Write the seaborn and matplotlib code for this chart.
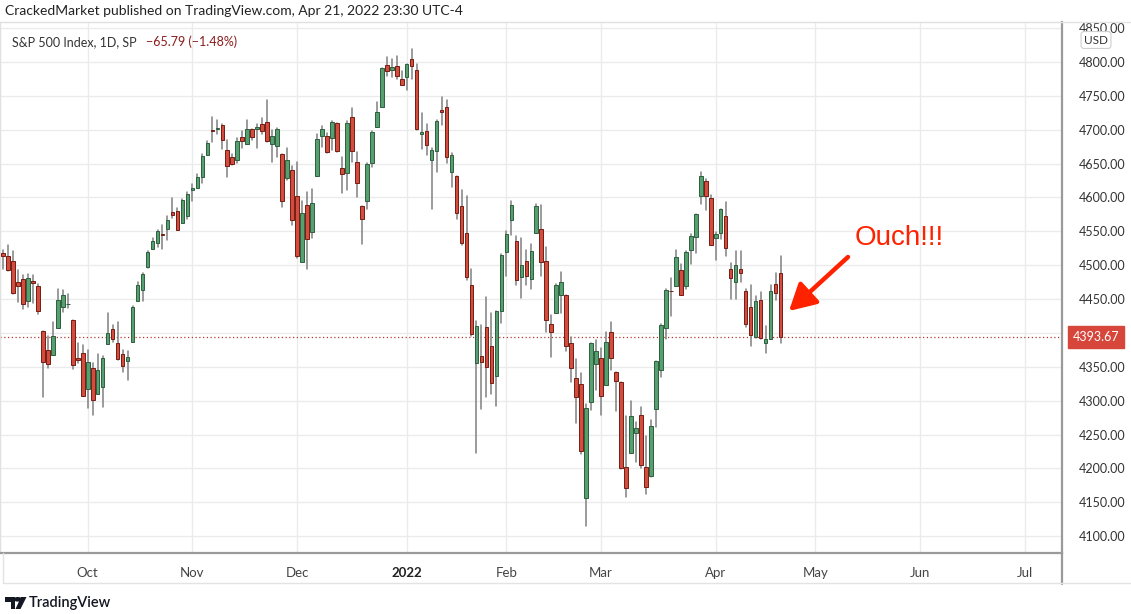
import numpy as np
import pandas as pd
import matplotlib
matplotlib.use("Agg")
import matplotlib.pyplot as plt
import seaborn as sns
from matplotlib.lines import Line2D
from matplotlib.patches import Polygon, Circle

# ---------------- data ----------------
holidays = ["2021-11-25", "2021-12-24", "2022-01-17", "2022-02-21", "2022-04-15",
            "2022-05-30", "2022-06-20", "2022-07-04"]
calendar = [d for d in pd.bdate_range("2021-09-08", "2022-07-29") if d.strftime("%Y-%m-%d") not in holidays]

opens = [4518.09, 4513.02, 4506.92, 4474.81, 4479.33, 4447.49, 4477.09, 4469.74, 4402.95, 4374.45, 4367.43, 4406.75, 4438.04, 4442.12, 4419.54, 4362.41, 4370.67,
         4317.16, 4348.84, 4309.87, 4319.57, 4383.73, 4406.51, 4385.44, 4368.31, 4358.01, 4386.75, 4447.69, 4463.72, 4497.34, 4524.42, 4532.24, 4546.12, 4553.69, 4578.69, 4580.22, 4562.84, 4572.87,
         4610.62, 4613.34, 4630.65, 4662.93, 4699.26, 4701.48, 4707.25, 4670.26, 4659.39, 4655.24, 4689.30, 4679.42, 4701.50, 4700.72, 4708.44, 4712.00, 4678.48, 4675.78, 4664.63, 4628.75, 4640.25,
         4602.82, 4504.73, 4589.49, 4548.37, 4631.97, 4690.86, 4691.00, 4687.64, 4710.30, 4642.99, 4636.46, 4719.13, 4652.50, 4587.90, 4594.96, 4650.36, 4703.96, 4733.99, 4795.49, 4788.64, 4794.23, 4775.21,
         4778.14, 4804.51, 4787.99, 4693.39, 4697.66, 4655.34, 4669.14, 4728.59, 4733.56, 4637.99, 4632.24, 4588.03, 4547.35, 4471.38, 4356.32, 4366.64, 4408.43, 4380.58, 4336.19, 4431.79,
         4519.57, 4566.39, 4535.41, 4482.79, 4505.75, 4480.02, 4547.00, 4553.24, 4506.27, 4412.61, 4429.28, 4455.75, 4456.06, 4384.57, 4332.74, 4324.93, 4155.77, 4298.38, 4354.17,
         4363.14, 4322.56, 4401.31, 4342.12, 4327.01, 4202.66, 4223.10, 4252.55, 4279.50, 4202.75, 4188.82, 4288.14, 4345.11, 4407.34, 4462.40, 4469.10, 4493.10, 4469.98, 4522.91, 4541.09, 4602.86, 4624.20, 4599.02,
         4540.32, 4547.97, 4572.45, 4494.17, 4474.65, 4494.15, 4462.64, 4437.59, 4394.30, 4449.12, 4385.63, 4390.63, 4472.26, 4489.17]
highs = [4521.79, 4529.90, 4520.47, 4492.99, 4485.68, 4486.87, 4485.87, 4471.52, 4402.95, 4394.87, 4416.75, 4465.40, 4463.12, 4457.30, 4419.54, 4385.57, 4382.55,
         4375.19, 4355.51, 4369.23, 4365.57, 4429.97, 4412.02, 4415.88, 4374.89, 4372.87, 4439.73, 4475.82, 4488.75, 4520.40, 4540.87, 4551.44, 4559.67, 4572.62, 4598.53, 4584.57, 4597.55, 4608.08,
         4620.34, 4635.15, 4663.46, 4683.00, 4718.50, 4714.92, 4708.53, 4684.85, 4664.55, 4688.47, 4697.42, 4714.95, 4701.50, 4708.80, 4717.75, 4743.83, 4699.39, 4702.87, 4664.63, 4672.95, 4646.02,
         4652.94, 4595.46, 4608.03, 4612.60, 4694.04, 4705.06, 4695.26, 4713.57, 4710.30, 4660.47, 4712.60, 4731.99, 4666.70, 4587.90, 4651.14, 4697.67, 4740.74, 4791.49, 4807.02, 4804.06, 4808.93, 4786.83,
         4796.64, 4818.62, 4797.70, 4725.01, 4707.95, 4673.02, 4714.13, 4748.83, 4744.13, 4665.13, 4632.24, 4611.55, 4602.11, 4494.52, 4417.35, 4411.01, 4453.23, 4428.74, 4432.72, 4516.89,
         4550.49, 4595.31, 4542.88, 4539.66, 4521.86, 4531.32, 4590.03, 4588.92, 4526.33, 4426.22, 4472.77, 4489.55, 4456.06, 4394.60, 4362.12, 4341.51, 4294.73, 4385.34, 4388.84,
         4378.45, 4401.48, 4416.78, 4342.12, 4327.01, 4276.94, 4299.40, 4268.28, 4291.01, 4247.57, 4271.05, 4357.86, 4412.67, 4465.40, 4481.75, 4522.00, 4501.07, 4520.58, 4546.03, 4575.65, 4637.30, 4627.77, 4603.07,
         4548.70, 4583.50, 4593.45, 4503.94, 4521.16, 4520.41, 4464.35, 4471.00, 4453.92, 4460.46, 4410.31, 4471.03, 4488.29, 4512.94]
lows = [4493.95, 4492.07, 4457.66, 4445.70, 4435.46, 4438.37, 4443.80, 4427.76, 4305.91, 4347.96, 4367.43, 4406.75, 4430.27, 4436.19, 4346.33, 4355.08, 4306.24,
        4288.52, 4278.94, 4309.87, 4290.49, 4383.73, 4386.22, 4360.59, 4342.09, 4329.92, 4386.75, 4447.69, 4447.47, 4496.41, 4524.40, 4526.89, 4524.00, 4537.36, 4569.17, 4551.66, 4562.84, 4567.59,
        4595.06, 4613.34, 4621.19, 4662.59, 4681.32, 4694.39, 4670.87, 4630.86, 4648.31, 4650.77, 4672.86, 4679.42, 4684.41, 4672.78, 4694.22, 4682.17, 4652.66, 4659.89, 4585.43, 4625.26, 4560.00,
        4510.27, 4504.73, 4495.12, 4540.51, 4631.97, 4674.52, 4665.98, 4670.24, 4667.60, 4606.52, 4611.22, 4651.89, 4600.22, 4531.10, 4583.16, 4645.53, 4703.96, 4733.99, 4780.04, 4778.08, 4775.33, 4765.75,
        4758.17, 4774.27, 4699.44, 4671.26, 4662.74, 4582.24, 4638.27, 4706.71, 4650.29, 4614.75, 4568.70, 4530.20, 4477.95, 4395.34, 4222.62, 4287.11, 4304.80, 4309.50, 4292.46, 4414.02,
        4483.53, 4544.32, 4470.39, 4451.50, 4471.47, 4465.40, 4547.00, 4484.31, 4401.41, 4364.84, 4429.28, 4429.68, 4373.81, 4327.22, 4267.11, 4221.51, 4114.65, 4286.83, 4315.12,
        4279.54, 4322.56, 4345.56, 4284.98, 4199.85, 4157.87, 4223.10, 4209.80, 4200.49, 4161.72, 4187.90, 4261.74, 4335.65, 4390.57, 4424.30, 4469.10, 4455.81, 4465.17, 4501.07, 4517.69, 4589.66, 4581.32, 4530.41,
        4507.57, 4539.21, 4514.17, 4450.04, 4450.30, 4474.60, 4408.38, 4381.34, 4392.70, 4390.77, 4370.30, 4390.63, 4448.76, 4384.47]
closes = [4514.07, 4493.28, 4458.58, 4468.73, 4443.05, 4480.70, 4473.75, 4432.99, 4357.73, 4354.19, 4395.64, 4448.98, 4455.48, 4443.11, 4352.63, 4359.46, 4307.54,
          4357.04, 4300.46, 4345.72, 4363.55, 4399.76, 4391.34, 4361.19, 4350.65, 4363.80, 4438.26, 4471.37, 4486.46, 4519.63, 4536.19, 4549.78, 4544.90, 4566.48, 4574.79, 4551.68, 4596.42, 4605.38,
          4613.67, 4630.65, 4660.57, 4680.06, 4697.53, 4701.70, 4685.25, 4646.71, 4649.27, 4682.85, 4682.80, 4700.90, 4688.67, 4704.54, 4697.96, 4682.94, 4690.70, 4701.46, 4594.62, 4655.27, 4567.00,
          4513.04, 4577.10, 4538.43, 4591.67, 4686.75, 4701.21, 4667.45, 4712.02, 4668.97, 4634.09, 4709.85, 4668.67, 4620.64, 4568.02, 4649.23, 4696.56, 4725.79, 4791.19, 4786.35, 4793.06, 4778.73, 4766.18,
          4796.56, 4793.54, 4700.58, 4696.05, 4677.03, 4670.29, 4713.07, 4726.35, 4659.03, 4662.85, 4577.11, 4532.76, 4482.73, 4397.94, 4410.13, 4356.45, 4349.93, 4326.51, 4431.85, 4515.55,
          4546.54, 4589.38, 4477.44, 4500.53, 4483.87, 4521.54, 4587.18, 4504.08, 4418.64, 4401.67, 4471.07, 4475.01, 4380.26, 4348.87, 4304.76, 4225.50, 4288.70, 4384.65, 4373.94,
          4306.26, 4386.54, 4363.49, 4328.87, 4201.09, 4170.70, 4277.88, 4259.52, 4204.31, 4173.11, 4262.45, 4357.86, 4411.67, 4463.12, 4461.18, 4511.61, 4456.24, 4520.16, 4543.06, 4575.52, 4631.60, 4602.45, 4530.41,
          4545.86, 4582.64, 4525.12, 4481.15, 4500.21, 4488.28, 4412.53, 4397.45, 4446.59, 4392.59, 4391.69, 4462.21, 4459.45, 4393.66]

last_price = 4393.67
change_text = "\u221265.79 (\u22121.48%)"
month_labels = ["Oct", "Nov", "Dec", "2022", "Feb", "Mar", "Apr", "May", "Jun", "Jul"]
price_ticks = list(range(4100, 4851, 50))
hidden_tick = 4400  # covered by the last-price label in the reference

n = len(closes)
df = pd.DataFrame({"date": calendar[:n], "open": opens, "high": highs, "low": lows, "close": closes})
df["x"] = np.arange(n)
df["up"] = df["close"] >= df["open"]

# month tick positions (first trading day of each month)
cal = pd.Series(calendar)
firsts = cal.groupby([cal.dt.year, cal.dt.month]).apply(lambda s: s.index[0]).values
month_pos = list(firsts[1:1 + len(month_labels)])

# ---------------- style ----------------
sns.set_theme(style="white")
plt.rcParams["font.family"] = ["Lato", "DejaVu Sans"]

W, H = 1131, 614
fig = plt.figure(figsize=(W / 100, H / 100), dpi=100)
fig.patch.set_facecolor("white")

def fx(px): return px / W
def fy(py): return 1 - py / H

ax_l, ax_r, ax_t, ax_b = 0, 1062, 22, 553
ax = fig.add_axes([fx(ax_l), fy(ax_b), fx(ax_r) - fx(ax_l), fy(ax_t) - fy(ax_b)])
ax.set_facecolor("white")

# wicks (seaborn lineplot, one unit per bar)
wick = pd.concat([df[["x", "low"]].rename(columns={"low": "y"}),
                  df[["x", "high"]].rename(columns={"high": "y"})])
wick["bar"] = wick["x"]
sns.lineplot(data=wick, x="x", y="y", units="bar", estimator=None, color="#858585",
             lw=1.15, ax=ax, legend=False, zorder=3)

# bodies
up_face, up_edge = "#55a06e", "#2e5e3f"
dn_face, dn_edge = "#d44c3e", "#731d14"
body_h = np.maximum((df["close"] - df["open"]).abs(), 1.0)
body_b = np.minimum(df["close"], df["open"])
ax.bar(df["x"], body_h, bottom=body_b, width=0.72,
       color=np.where(df["up"], up_face, dn_face),
       edgecolor=np.where(df["up"], up_edge, dn_edge), linewidth=0.7, zorder=4)

# axes limits
px_per_bar = 4.984
x0_px = 3.0
ax.set_xlim((ax_l - x0_px) / px_per_bar, (ax_r - x0_px) / px_per_bar)
ppp = 508 / 750.0
ax.set_ylim(4800 - (ax_b - 62) / ppp, 4800 + (62 - ax_t) / ppp)

# grid
for p in price_ticks:
    ax.axhline(p, color="#ebebeb", lw=1, zorder=0)
for m in month_pos:
    ax.axvline(m, color="#ebebeb", lw=1, zorder=0)

# last price line
ax.axhline(last_price, color="#b03a2e", lw=0.9, ls=(0, (1, 2)), zorder=2)

# ticks
ax.yaxis.tick_right()
ax.set_yticks(price_ticks)
ax.set_yticklabels(["" if p == hidden_tick else f"{p:.2f}" for p in price_ticks],
                   fontsize=9, color="#333333")
ax.tick_params(axis="y", length=0, pad=12)
ax.set_xticks(month_pos)
ax.set_xticklabels(month_labels, fontsize=9.5, color="#444444")
for lab in ax.get_xticklabels():
    if lab.get_text() == "2022":
        lab.set_fontweight("bold")
        lab.set_color("#222222")
ax.tick_params(axis="x", length=0, pad=10)
ax.set_xlabel("")
ax.set_ylabel("")

for s in ["top", "left"]:
    ax.spines[s].set_color("#e0e0e0")
    ax.spines[s].set_linewidth(1)
ax.spines["bottom"].set_color("#9a9a9a")
ax.spines["bottom"].set_linewidth(1.6)
ax.spines["right"].set_color("#9a9a9a")
ax.spines["right"].set_linewidth(1.6)

# extra figure lines: price scale separator through time axis, time axis bottom
fig.add_artist(Line2D([fx(1062), fx(1062)], [fy(553), fy(584)], color="#9a9a9a", lw=1.6))
fig.add_artist(Line2D([fx(3), fx(1131)], [fy(583), fy(583)], color="#e3e3e3", lw=1))
fig.add_artist(Line2D([fx(3), fx(3)], [fy(553), fy(583)], color="#e3e3e3", lw=1))
fig.add_artist(Line2D([fx(1062), fx(1131)], [fy(22), fy(22)], color="#e3e3e3", lw=1))

# last price label
ax.annotate(f"{last_price:.2f}", xy=(1.0, last_price), xycoords=("axes fraction", "data"),
            xytext=(8, 0), textcoords="offset points", va="center", ha="left",
            fontsize=9, color="white", zorder=10, annotation_clip=False,
            bbox=dict(boxstyle="square,pad=0.38", fc="#d6463a", ec="#d6463a"))

# USD box
fig.text(fx(1096), fy(40), "USD", fontsize=8.5, color="#333333", ha="center", va="center",
         bbox=dict(boxstyle="round,pad=0.25", fc="white", ec="#cfcfcf", lw=0.8))

# header texts
fig.text(fx(5), fy(11), "CrackedMarket published on TradingView.com, Apr 21, 2022 23:30 UTC-4",
         fontsize=10, color="#222222", ha="left", va="center")
fig.text(fx(12), fy(42), "S&P 500 Index, 1D, SP", fontsize=9, color="#333333", ha="left", va="center")
fig.text(fx(146), fy(42), change_text, fontsize=9, color="#8b1c1c", ha="left", va="center")

# annotation
arrow_tail = ((848 - x0_px) / px_per_bar, 4800 - (257 - 62) / ppp)
arrow_head = ((789 - x0_px) / px_per_bar, 4800 - (311 - 62) / ppp)
ax.annotate("", xy=arrow_head, xytext=arrow_tail,
            arrowprops=dict(arrowstyle="-|>,head_length=1.0,head_width=0.55", color="#ff2200",
                            lw=3.2, mutation_scale=16, shrinkA=0, shrinkB=0), zorder=12)
ax.text((899 - x0_px) / px_per_bar, 4800 - (238 - 62) / ppp, "Ouch!!!", fontsize=20,
        color="#ff2200", ha="center", va="center", family="Liberation Sans", zorder=12)

# TradingView logo
logo_c = "#131722"
fig.add_artist(Polygon([[fx(5), fy(597)], [fx(15), fy(597)], [fx(15), fy(609)], [fx(10.5), fy(609)],
                        [fx(10.5), fy(601.5)], [fx(5), fy(601.5)]], closed=True, fc=logo_c, ec="none"))
fig.add_artist(Circle((fx(17.8), fy(599.3)), 2.3 / H, transform=fig.transFigure, fc=logo_c, ec="none"))
fig.add_artist(Polygon([[fx(21), fy(597)], [fx(26.5), fy(597)], [fx(20.5), fy(609)], [fx(15.5), fy(609)]],
                       closed=True, fc=logo_c, ec="none"))
fig.text(fx(29), fy(603), "TradingView", fontsize=10.5, color=logo_c, ha="left", va="center",
         fontweight="semibold")

fig.savefig("out.png", dpi=100, facecolor="white")
